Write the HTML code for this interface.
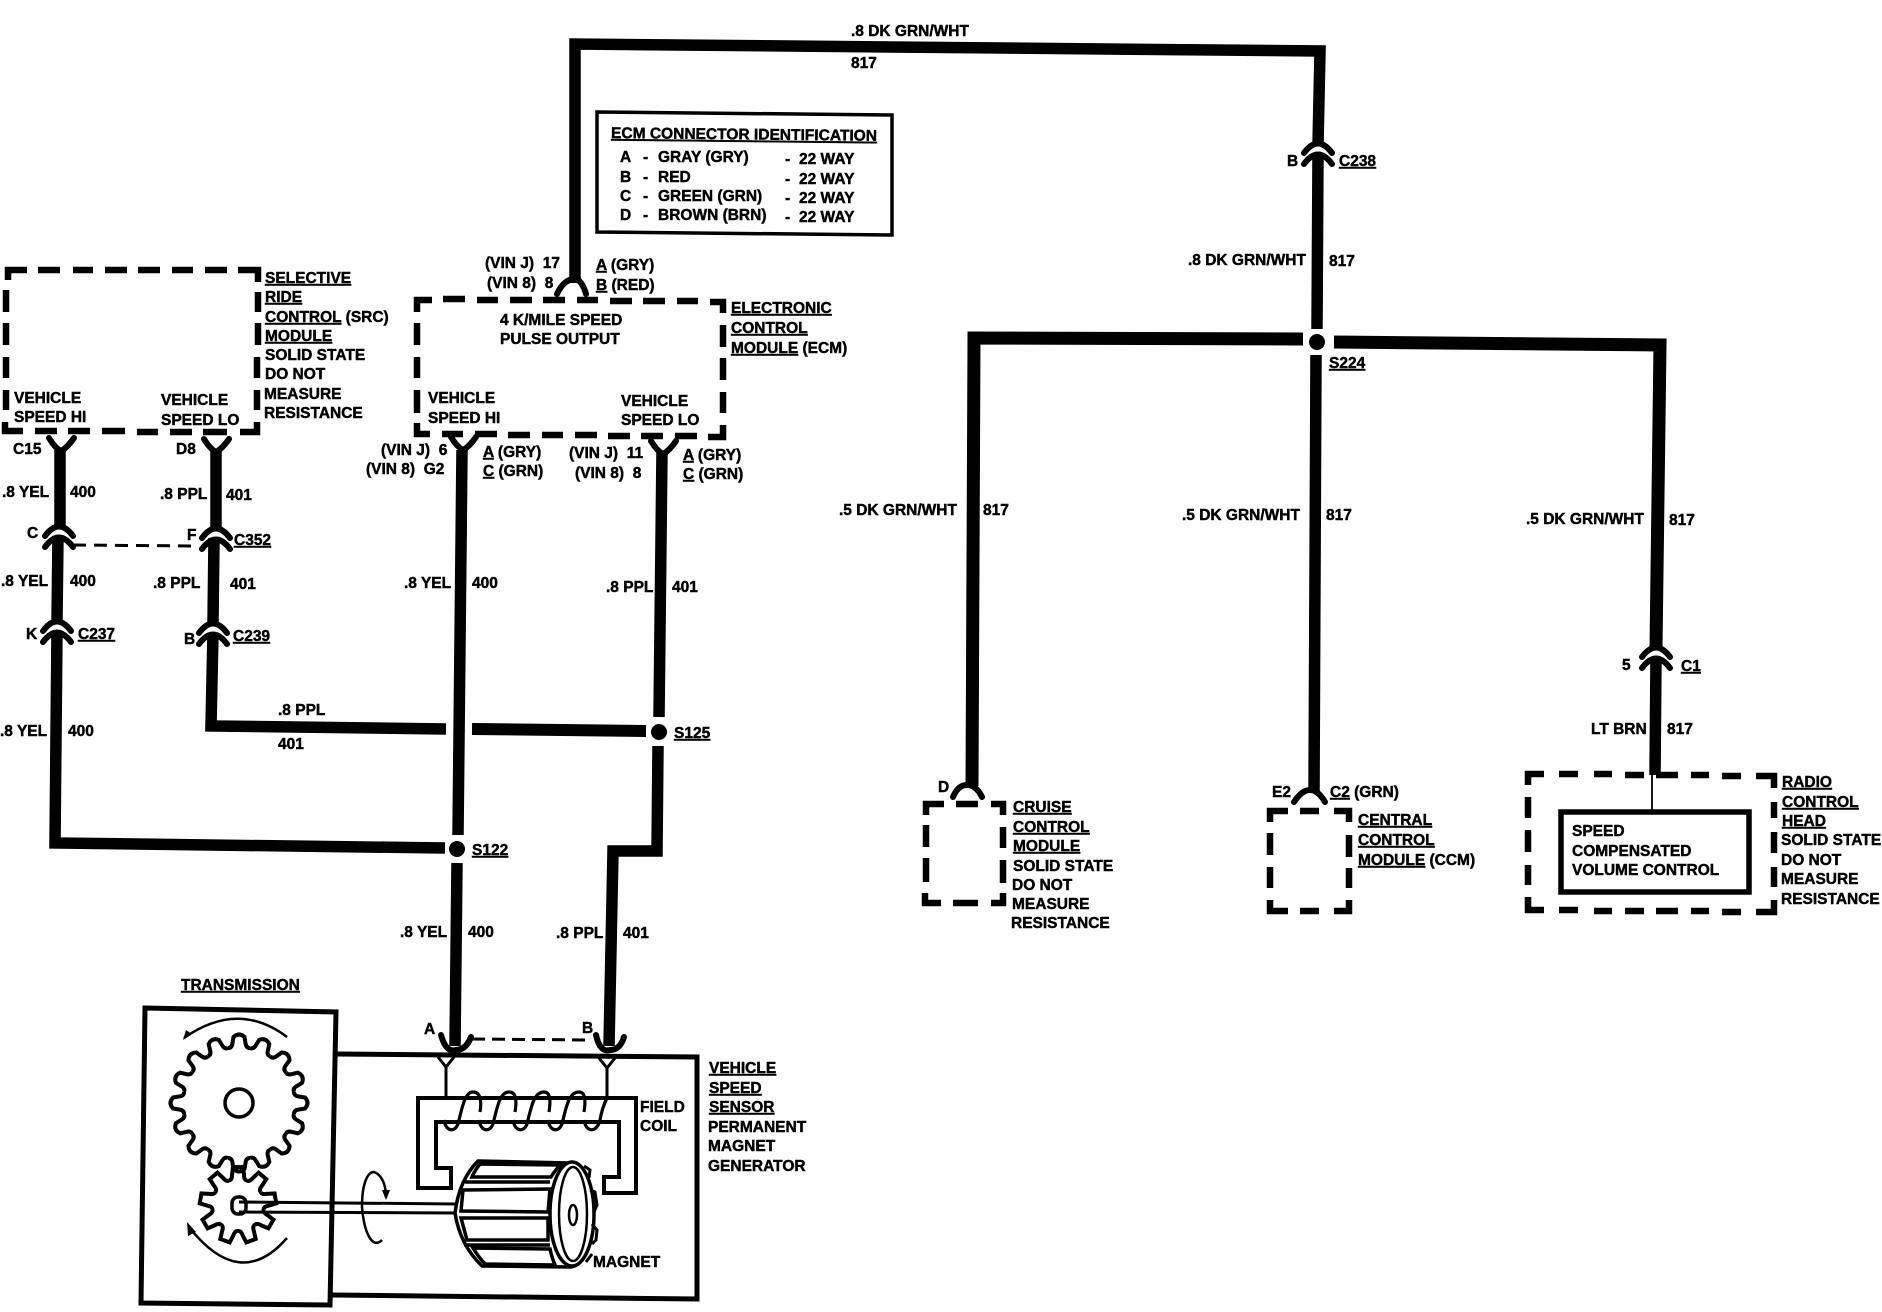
<!DOCTYPE html>
<html><head><meta charset="utf-8"><title>Vehicle speed sensor circuit</title>
<style>
html,body{margin:0;padding:0;background:#fff}
svg{display:block}
text{font-family:"Liberation Sans",sans-serif;font-weight:bold;font-size:15.5px;fill:#000;stroke:#000;stroke-width:.45px;white-space:pre}
.u{text-decoration:underline}
.w{fill:none;stroke:#000;stroke-width:11.5;stroke-linejoin:miter}
.d{fill:none;stroke:#000;stroke-width:6.5;stroke-linejoin:miter}
.a{fill:none;stroke:#000;stroke-width:6;stroke-linecap:round}
.l{fill:none;stroke:#000;stroke-width:4}
</style></head><body>
<svg xmlns="http://www.w3.org/2000/svg" width="1882" height="1312" viewBox="0 0 1882 1312">
<defs>
<g id="c"><path class="a" d="M-14,10 Q0,-9 14,10"/><path class="a" d="M-14,21 Q0,2 14,21"/></g>
<g id="y"><path class="a" d="M-12,-10 Q-6,0 0,3 Q6,0 13,-10"/></g>
<g id="t1"><path class="l" d="M-11,-55 Q-7,-55 -6.500,-60 L-5.500,-66 Q0,-71 5.500,-66 L6.500,-60 Q7,-55 11,-55"/></g>
<g id="t2"><path class="l" d="M-9,-24.500 Q-6,-25 -6,-30 L-5,-38 L5,-38 L6,-30 Q6,-25 9,-24.500"/></g>
</defs>

<!-- wires -->
<path class="w" d="M575,283 V44 L1320,51 L1318,145"/>
<path class="w" d="M1318,155 L1317,329"/>
<path class="w" style="stroke-width:13" d="M1303,339 L974,338 L972,786"/>
<path class="w" d="M1316,355 L1314,792"/>
<path class="w" style="stroke-width:13" d="M1334,342 L1660,345 L1656,648"/>
<path class="w" d="M1656,658 L1655,775"/>
<path class="w" d="M60,450 V526"/>
<path class="w" d="M58,536 L57,621"/>
<path class="w" d="M57,631 L55,843 L445,848"/>
<path class="w" d="M216,450 V528"/>
<path class="w" d="M214,538 L213,623"/>
<path class="w" d="M213,633 L211,726 L446,729"/>
<path class="w" style="stroke-width:12" d="M472,729 L646,731"/>
<path class="w" d="M462,450 L458,835"/>
<path class="w" d="M457,863 L455,1046"/>
<path class="w" d="M662,452 L659,717"/>
<path class="w" d="M658,746 L657,851 L613,851 L609,1046"/>
<circle cx="1317" cy="342" r="8"/><circle cx="659" cy="732" r="8"/><circle cx="457" cy="849" r="8"/>

<!-- connectors -->
<use href="#c" x="59" y="526"/><use href="#c" x="216" y="528"/>
<use href="#c" x="57" y="621"/><use href="#c" x="213" y="623"/>
<use href="#c" x="1318" y="143"/><use href="#c" x="1656" y="647"/>
<use href="#y" x="61" y="448"/><use href="#y" x="216" y="449"/>
<use href="#y" x="463" y="447"/><use href="#y" x="663" y="451"/>
<path class="a" d="M557,294 Q564,279 575,279 Q582,280 586,294"/>
<path class="a" d="M953,797 Q958,785 967,785 Q976,785 982,797"/>
<path class="a" d="M1294,802 Q1302,790 1310,790 Q1318,790 1325,802"/>
<path class="a" d="M441,1035 Q446,1053 456,1050 Q466,1050 471,1037"/>
<path class="a" d="M596,1035 Q600,1053 610,1050 Q620,1050 624,1037"/>
<path fill="none" stroke="#000" stroke-width="3" stroke-dasharray="13 8" d="M73,545 L197,546"/>
<path fill="none" stroke="#000" stroke-width="3" stroke-dasharray="13 7" d="M472,1039 L590,1040"/>

<!-- dashed boxes: SRC -->
<path class="d" d="M8,280 V270 H27 M38,270 H60 M73,270 H93 M105,270 H127 M138,270 H160 M172,270 H193 M205,270 H227 M238,270 H258 V282 M258,292 V312 M258,323 V345 M257,357 V378 M257,390 V410 M257,422 V432 H240 M227,432 H203 M192,432 H170 M158,432 H137 M125,431 H102 M90,431 H68 M57,431 H35 M23,431 H5 V422 M6,410 V390 M6,378 V357 M6,345 V323 M6,312 V290"/>
<!-- ECM -->
<path class="d" d="M417,312 V300 H432 M443,299 H465 M477,300 H498 M510,300 H532 M543,300 H565 M577,300 H598 M610,301 H632 M643,301 H665 M677,301 H698 M710,302 H723 V313 M723,325 V347 M723,358 V380 M723,392 V413 M723,425 V437 H708 M697,436 H675 M663,436 H641 M630,436 H608 M597,435 H575 M563,435 H542 M530,435 H508 M497,434 H475 M463,434 H442 M430,434 H417 V423 M417,413 V390 M417,378 V357 M417,345 V323"/>
<!-- Cruise -->
<path class="d" d="M926,815 V804 H944 M956,804 H978 M991,804 H1003 V815 M1003,827 V848 M1003,860 V883 M1003,893 V903 H991 M978,903 H953 M941,903 H925 V893 M926,882 V858 M926,847 V825"/>
<!-- CCM -->
<path class="d" d="M1270,822 V811 H1288 M1300,811 H1319 M1334,811 H1349 V822 M1349,835 V857 M1349,868 V888 M1349,900 V911 H1334 M1319,911 H1300 M1288,911 H1270 V900 M1270,888 V867 M1270,855 V833"/>
<!-- Radio -->
<path class="d" d="M1528,785 V774 H1544 M1559,774 H1578 M1594,774 H1612 M1625,775 H1644 M1656,775 H1678 M1691,775 H1709 M1722,776 H1741 M1756,776 H1774 V788 M1774,802 V818 M1774,832 V853 M1774,867 V887 M1774,900 V912 H1756 M1741,912 H1722 M1709,911 H1691 M1678,911 H1656 M1644,911 H1625 M1612,911 H1594 M1578,910 H1559 M1544,910 H1528 V897 M1528,885 V865 M1528,852 V830 M1528,818 V797"/>
<rect x="1561" y="812" width="188" height="80" fill="none" stroke="#000" stroke-width="5.500"/>
<line x1="1652" y1="775" x2="1652" y2="810" stroke="#000" stroke-width="1.800"/>

<!-- legend -->
<path fill="none" stroke="#000" stroke-width="3.500" d="M597,112 L892,115 V235 L597,232 Z"/>
<text x="611" y="138" class="u" textLength="266" lengthAdjust="spacingAndGlyphs" transform="rotate(.6 611 138)">ECM CONNECTOR IDENTIFICATION</text>
<text x="620" y="162">A</text><text x="643" y="162">-</text><text x="658" y="162">GRAY (GRY)</text><text x="785" y="164">-</text><text x="799" y="164">22 WAY</text>
<text x="620" y="182">B</text><text x="643" y="182">-</text><text x="658" y="182">RED</text><text x="785" y="184">-</text><text x="799" y="184">22 WAY</text>
<text x="620" y="201">C</text><text x="643" y="201">-</text><text x="658" y="201">GREEN (GRN)</text><text x="785" y="203">-</text><text x="799" y="203">22 WAY</text>
<text x="620" y="220">D</text><text x="643" y="220">-</text><text x="658" y="220">BROWN (BRN)</text><text x="785" y="222">-</text><text x="799" y="222">22 WAY</text>

<!-- SRC -->
<text x="265" y="283" class="u">SELECTIVE</text>
<text x="265" y="302" class="u">RIDE</text>
<text x="265" y="322"><tspan class="u">CONTROL</tspan> (SRC)</text>
<text x="265" y="341" class="u">MODULE</text>
<text x="265" y="360">SOLID STATE</text>
<text x="265" y="379">DO NOT</text>
<text x="264" y="399">MEASURE</text>
<text x="264" y="418">RESISTANCE</text>
<text x="14" y="403">VEHICLE</text><text x="14" y="422">SPEED HI</text>
<text x="161" y="405">VEHICLE</text><text x="161" y="425">SPEED LO</text>
<text x="13" y="454">C15</text><text x="176" y="454">D8</text>
<text x="2" y="497">.8 YEL</text><text x="70" y="497">400</text>
<text x="160" y="499">.8 PPL</text><text x="226" y="500">401</text>
<text x="27" y="538">C</text><text x="187" y="540">F</text><text x="234" y="545" class="u">C352</text>
<text x="1" y="586">.8 YEL</text><text x="70" y="586">400</text>
<text x="153" y="588">.8 PPL</text><text x="230" y="589">401</text>
<text x="26" y="639">K</text><text x="78" y="639" class="u">C237</text>
<text x="184" y="644">B</text><text x="233" y="641" class="u">C239</text>
<text x="0" y="736">.8 YEL</text><text x="68" y="736">400</text>
<text x="278" y="715">.8 PPL</text><text x="278" y="749">401</text>

<!-- ECM -->
<text x="485" y="268">(VIN J)  17</text><text x="487" y="288">(VIN 8)  8</text>
<text x="596" y="270"><tspan class="u">A</tspan> (GRY)</text><text x="596" y="290"><tspan class="u">B</tspan> (RED)</text>
<text x="500" y="325">4 K/MILE SPEED</text><text x="500" y="344">PULSE OUTPUT</text>
<text x="731" y="313" class="u">ELECTRONIC</text><text x="731" y="333" class="u">CONTROL</text>
<text x="731" y="353"><tspan class="u">MODULE</tspan> (ECM)</text>
<text x="428" y="403">VEHICLE</text><text x="428" y="423">SPEED HI</text>
<text x="621" y="406">VEHICLE</text><text x="621" y="425">SPEED LO</text>
<text x="381" y="455">(VIN J)  6</text><text x="366" y="474">(VIN 8)  G2</text>
<text x="483" y="457"><tspan class="u">A</tspan> (GRY)</text><text x="483" y="476"><tspan class="u">C</tspan> (GRN)</text>
<text x="569" y="458">(VIN J)  11</text><text x="575" y="478">(VIN 8)  8</text>
<text x="683" y="460"><tspan class="u">A</tspan> (GRY)</text><text x="683" y="479"><tspan class="u">C</tspan> (GRN)</text>
<text x="404" y="588">.8 YEL</text><text x="472" y="588">400</text>
<text x="606" y="592">.8 PPL</text><text x="672" y="592">401</text>
<text x="674" y="738" class="u">S125</text><text x="472" y="855" class="u">S122</text>
<text x="400" y="937">.8 YEL</text><text x="468" y="937">400</text>
<text x="556" y="938">.8 PPL</text><text x="623" y="938">401</text>

<!-- top right -->
<text x="851" y="36">.8 DK GRN/WHT</text><text x="851" y="68">817</text>
<text x="1287" y="166">B</text><text x="1339" y="166" class="u">C238</text>
<text x="1188" y="265">.8 DK GRN/WHT</text><text x="1329" y="266">817</text>
<text x="1329" y="368" class="u">S224</text>
<text x="839" y="515">.5 DK GRN/WHT</text><text x="983" y="515">817</text>
<text x="1182" y="520">.5 DK GRN/WHT</text><text x="1326" y="520">817</text>
<text x="1526" y="524">.5 DK GRN/WHT</text><text x="1669" y="525">817</text>
<text x="1622" y="670">5</text><text x="1681" y="671" class="u">C1</text>
<text x="1591" y="734">LT BRN</text><text x="1667" y="734">817</text>
<text x="938" y="792">D</text>
<text x="1272" y="797">E2</text><text x="1330" y="797"><tspan class="u">C2</tspan> (GRN)</text>

<text x="1013" y="812" class="u">CRUISE</text><text x="1013" y="832" class="u">CONTROL</text><text x="1013" y="851" class="u">MODULE</text>
<text x="1013" y="871">SOLID STATE</text><text x="1012" y="890">DO NOT</text><text x="1012" y="909">MEASURE</text><text x="1011" y="928">RESISTANCE</text>
<text x="1358" y="825" class="u">CENTRAL</text><text x="1358" y="845" class="u">CONTROL</text>
<text x="1358" y="865"><tspan class="u">MODULE</tspan> (CCM)</text>
<text x="1782" y="787" class="u">RADIO</text><text x="1782" y="807" class="u">CONTROL</text><text x="1782" y="826" class="u">HEAD</text>
<text x="1781" y="845">SOLID STATE</text><text x="1781" y="865">DO NOT</text><text x="1781" y="884">MEASURE</text><text x="1781" y="904">RESISTANCE</text>
<text x="1572" y="836">SPEED</text><text x="1572" y="856">COMPENSATED</text><text x="1572" y="875">VOLUME CONTROL</text>

<!-- sensor -->
<text x="424" y="1034">A</text><text x="582" y="1033">B</text>
<text x="181" y="990" class="u">TRANSMISSION</text>
<text x="640" y="1112">FIELD</text><text x="640" y="1131">COIL</text>
<text x="709" y="1073" class="u">VEHICLE</text><text x="709" y="1093" class="u">SPEED</text><text x="709" y="1112" class="u">SENSOR</text>
<text x="708" y="1132">PERMANENT</text><text x="708" y="1151">MAGNET</text><text x="708" y="1171">GENERATOR</text>
<text x="593" y="1267">MAGNET</text>

<path fill="none" stroke="#000" stroke-width="5" d="M336,1054 L697,1057 V1299 L332,1295"/>
<path fill="#fff" stroke="#000" stroke-width="5" d="M145,1008 L336,1012 L330,1305 L141,1303 Z"/>

<path fill="none" stroke="#000" stroke-width="4" d="M336,1054 L697,1057"/>
<g stroke="#000" stroke-width="3" fill="none">
<path d="M438,1057 L446,1067 L454,1057 M446,1067 V1098"/>
<path d="M599,1058 L607,1068 L615,1058 M607,1068 V1098"/>
</g>
<path class="l" d="M418,1098 H636 V1193 H604 V1177 H619 V1122 H436 V1168 H451 V1188 H418 Z"/>
<g fill="none" stroke="#000" stroke-width="3.200">
<path d="M444,1120 C446,1133 457,1133 459,1120 C463,1103 466,1092 473,1092 C480,1092 482,1100 480,1112"/>
<path d="M479,1120 C481,1133 492,1133 494,1120 C498,1103 501,1092 509,1092 C516,1092 517,1100 515,1112"/>
<path d="M513,1120 C515,1133 526,1133 528,1120 C532,1103 535,1092 544,1092 C550,1092 551,1100 549,1112"/>
<path d="M548,1120 C550,1133 561,1133 563,1120 C567,1103 570,1092 579,1092 C585,1092 586,1100 584,1112"/>
<path d="M584,1120 C586,1133 597,1133 600,1120 C602,1108 605,1102 607,1098"/>
</g>

<!-- big gear -->
<g transform="translate(239,1103)">
<use href="#t1"/><use href="#t1" transform="rotate(22.500)"/><use href="#t1" transform="rotate(45)"/><use href="#t1" transform="rotate(67.500)"/>
<use href="#t1" transform="rotate(90)"/><use href="#t1" transform="rotate(112.500)"/><use href="#t1" transform="rotate(135)"/><use href="#t1" transform="rotate(157.500)"/>
<use href="#t1" transform="rotate(180)"/><use href="#t1" transform="rotate(202.500)"/><use href="#t1" transform="rotate(225)"/><use href="#t1" transform="rotate(247.500)"/>
<use href="#t1" transform="rotate(270)"/><use href="#t1" transform="rotate(292.500)"/><use href="#t1" transform="rotate(315)"/><use href="#t1" transform="rotate(337.500)"/>
<ellipse cx="0" cy="0" rx="14" ry="14" fill="none" stroke="#000" stroke-width="3.500"/>
</g>
<!-- small gear -->
<g transform="translate(238,1205)">
<circle r="26" fill="#fff"/>
<use href="#t2"/><use href="#t2" transform="rotate(40)"/><use href="#t2" transform="rotate(80)"/><use href="#t2" transform="rotate(120)"/>
<use href="#t2" transform="rotate(160)"/><use href="#t2" transform="rotate(200)"/><use href="#t2" transform="rotate(240)"/><use href="#t2" transform="rotate(280)"/><use href="#t2" transform="rotate(320)"/>
</g>
<rect x="232" y="1197" width="14" height="17" rx="6" fill="none" stroke="#000" stroke-width="3.500"/>
<path fill="none" stroke="#000" stroke-width="3" d="M239,1202 L456,1204 M239,1212 L456,1213"/>
<!-- arrows -->
<g fill="none" stroke="#000" stroke-width="2.500">
<path d="M184,1038 Q238,1000 287,1037"/>
<path d="M189,1227 Q240,1292 287,1238"/>
<path d="M382,1240 C372,1250 364,1232 362,1207 C362,1182 368,1172 374,1172 C380,1174 386,1182 386,1197"/>
</g>
<path d="M183,1040 L186,1030 L192,1034 Z"/><path d="M187,1222 L196,1232 L188,1236 Z"/><path d="M386,1200 L382,1190 L390,1190 Z"/>

<!-- rotor -->
<path fill="#fff" stroke="#000" stroke-width="3.500" d="M478,1161 L570,1163 Q590,1163 592,1213 Q590,1266 570,1267 L482,1266 Q460,1245 455,1213 Q459,1180 478,1161 Z"/>
<g fill="#fff" stroke="#000" stroke-width="3.500">
<path d="M480,1164 L560,1165 Q554,1172 551,1177 L472,1177 Q475,1170 480,1164 Z"/>
<path d="M463,1190 L550,1189 L548,1212 L461,1211 Z"/>
<path d="M461,1218 L548,1218 L548,1240 L467,1240 Z"/>
<path d="M473,1248 L550,1249 Q552,1258 555,1265 L485,1264 Q477,1255 473,1248 Z"/>
</g>
<path fill="none" stroke="#000" stroke-width="3.500" d="M465,1182 L550,1182 M464,1245 L550,1245"/>
<ellipse cx="572" cy="1214" rx="22" ry="52" fill="#fff" stroke="#000" stroke-width="3.500"/>
<ellipse cx="573" cy="1214" rx="14" ry="47" fill="none" stroke="#000" stroke-width="2.500"/>
<ellipse cx="573" cy="1215" rx="4" ry="10" fill="none" stroke="#000" stroke-width="2.500"/>
<path fill="none" stroke="#000" stroke-width="3" d="M584,1166 L590,1170 L589,1178 M590,1190 L595,1192 L597,1205 L594,1212 M592,1224 L597,1230 L596,1240 L592,1244 M592,1254 L586,1262"/>
</svg>
</body></html>
